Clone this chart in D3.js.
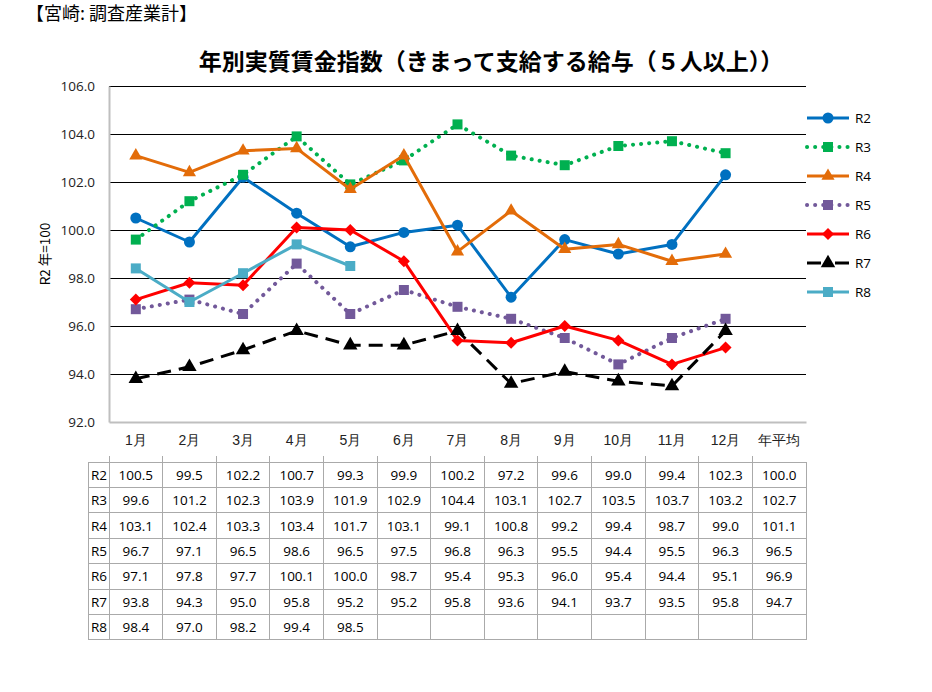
<!DOCTYPE html>
<html>
<head>
<meta charset="utf-8">
<script src="https://cdn.jsdelivr.net/npm/d3@7"></script>
<style>
  body { margin: 0; background: #fff; }
  svg { font-family: "Noto Sans CJK JP", "Noto Sans", sans-serif; }
</style>
</head>
<body>
<div id="chart"></div>
<script>
const categories = ["1月", "2月", "3月", "4月", "5月", "6月", "7月", "8月", "9月", "10月", "11月", "12月", "年平均"];
const seriesNames = ["R2", "R3", "R4", "R5", "R6", "R7", "R8"];

const r2 = [100.5, 99.5, 102.2, 100.7, 99.3, 99.9, 100.2, 97.2, 99.6, 99.0, 99.4, 102.3];
const r3 = [99.6, 101.2, 102.3, 103.9, 101.9, 102.9, 104.4, 103.1, 102.7, 103.5, 103.7, 103.2];
const r4 = [103.1, 102.4, 103.3, 103.4, 101.7, 103.1, 99.1, 100.8, 99.2, 99.4, 98.7, 99.0];
const r5 = [96.7, 97.1, 96.5, 98.6, 96.5, 97.5, 96.8, 96.3, 95.5, 94.4, 95.5, 96.3];
const r6 = [97.1, 97.8, 97.7, 100.1, 100.0, 98.7, 95.4, 95.3, 96.0, 95.4, 94.4, 95.1];
const r7 = [93.8, 94.3, 95.0, 95.8, 95.2, 95.2, 95.8, 93.6, 94.1, 93.7, 93.5, 95.8];
const r8 = [98.4, 97.0, 98.2, 99.4, 98.5];
const annualAvg = [100.0, 102.7, 101.1, 96.5, 96.9, 94.7, null];

const yTicks = [92, 94, 96, 98, 100, 102, 104, 106];

const styles = {
    R2: { color: "#0070C0", dash: null, marker: "circle" },
    R3: { color: "#00B050", dash: "0.1 8", marker: "square" },
    R4: { color: "#E36C09", dash: null, marker: "triangle" },
    R5: { color: "#72599A", dash: "0.1 8", marker: "square" },
    R6: { color: "#FF0000", dash: null, marker: "diamond" },
    R7: { color: "#000000", dash: "14 8", marker: "triangle" },
    R8: { color: "#4BACC6", dash: null, marker: "square" }
};

const allSeries = [r2, r3, r4, r5, r6, r7, r8];

const width = 932, height = 692;
const plot = { left: 109, right: 806, top: 86, bottom: 422 };

const svg = d3.select("#chart").append("svg")
    .attr("width", width)
    .attr("height", height);

// ヘッダー
svg.append("text")
    .attr("x", 26).attr("y", 20)
    .style("font-size", "18px")
    .text("【宮崎: 調査産業計】");

svg.append("text")
    .attr("x", 491).attr("y", 70)
    .attr("text-anchor", "middle")
    .style("font-size", "23px")
    .style("font-weight", "bold")
    .text("年別実質賃金指数（きまって支給する給与（５人以上））");

const x = d3.scaleBand()
    .domain(categories)
    .range([plot.left, plot.right]);

const y = d3.scaleLinear()
    .domain([92, 106])
    .range([plot.bottom, plot.top]);

// グリッド
svg.append("g")
    .selectAll("line")
    .data(yTicks.filter(d => d > 92))
    .enter().append("line")
    .attr("x1", plot.left).attr("x2", plot.right)
    .attr("y1", d => Math.round(y(d)) + 0.5).attr("y2", d => Math.round(y(d)) + 0.5)
    .attr("stroke", "#000")
    .attr("stroke-width", 1)
    .attr("shape-rendering", "crispEdges");

// 軸
const yAxis = svg.append("g")
    .attr("transform", `translate(${plot.left},0)`)
    .call(d3.axisLeft(y).tickValues(yTicks).tickFormat(d3.format(".1f")).tickSize(0).tickPadding(14));
yAxis.select(".domain").attr("stroke", "#bfbfbf").attr("stroke-width", 2);
yAxis.selectAll("text").style("font-size", "13.5px").style("font-family", "'Open Sans', sans-serif").attr("fill", "#222");

const xAxis = svg.append("g")
    .attr("transform", `translate(0,${plot.bottom})`)
    .call(d3.axisBottom(x).tickSize(0).tickPadding(13));
xAxis.select(".domain").attr("stroke", "#bfbfbf").attr("stroke-width", 2);
xAxis.selectAll("text").style("font-size", "14px").attr("fill", "#222");

svg.append("text")
    .attr("transform", `translate(50,${(plot.top + plot.bottom) / 2}) rotate(-90)`)
    .attr("text-anchor", "middle")
    .style("font-size", "13.5px")
    .text("R2 年=100");

// 折れ線
const cx = i => x(categories[i]) + x.bandwidth() / 2;
const line = d3.line().x((d, i) => cx(i)).y(d => y(d));

function drawMarker(g, type, color, size) {
    if (type === "circle") {
        g.append("circle").attr("r", size * 0.55).attr("fill", color);
    } else if (type === "square") {
        g.append("rect").attr("x", -size / 2).attr("y", -size / 2)
            .attr("width", size).attr("height", size).attr("fill", color);
    } else if (type === "triangle") {
        g.append("path").attr("d", d3.symbol(d3.symbolTriangle, size * size * 0.75)()).attr("fill", color);
    } else if (type === "diamond") {
        g.append("path").attr("d", `M0,${-size * 0.6}L${size * 0.6},0L0,${size * 0.6}L${-size * 0.6},0Z`).attr("fill", color);
    }
}

seriesNames.forEach((name, k) => {
    const st = styles[name];
    const data = allSeries[k];
    const dotted = st.dash && name !== "R7";
    const p = svg.append("path")
        .datum(data)
        .attr("fill", "none")
        .attr("stroke", st.color)
        .attr("stroke-width", dotted ? 4 : 3)
        .attr("stroke-linecap", dotted ? "round" : "butt")
        .attr("stroke-linejoin", "round")
        .attr("d", line);
    if (st.dash) p.attr("stroke-dasharray", st.dash);

    data.forEach((v, i) => {
        const g = svg.append("g").attr("transform", `translate(${cx(i)},${y(v)})`);
        drawMarker(g, st.marker, st.color, name === "R7" ? 11 : 10);
    });
});

// 凡例
const legendY = d3.scalePoint().domain(seriesNames).range([118, 292]);
seriesNames.forEach(name => {
    const st = styles[name];
    const ly = legendY(name);
    const dotted = st.dash && name !== "R7";
    const l = svg.append("line")
        .attr("x1", 807).attr("x2", 849)
        .attr("y1", ly).attr("y2", ly)
        .attr("stroke", st.color)
        .attr("stroke-width", dotted ? 4 : 3)
        .attr("stroke-linecap", dotted ? "round" : "butt");
    if (st.dash) l.attr("stroke-dasharray", name === "R7" ? "14 14" : "0.1 8");
    const g = svg.append("g").attr("transform", `translate(828,${ly})`);
    drawMarker(g, st.marker, st.color, name === "R7" ? 11 : 10);
    svg.append("text")
        .attr("x", 855).attr("y", ly + 5)
        .style("font-size", "13.5px")
        .style("font-family", "'Open Sans', sans-serif")
        .text(name);
});

// データテーブル
const table = { left: 88, top: 462, rowH: 25.4 };
const tbl = svg.append("g").attr("shape-rendering", "crispEdges");
const nRows = seriesNames.length;
const tableBottom = table.top + nRows * table.rowH;

// 横線
d3.range(nRows + 1).forEach(r => {
    tbl.append("line")
        .attr("x1", table.left).attr("x2", plot.right)
        .attr("y1", table.top + r * table.rowH).attr("y2", table.top + r * table.rowH)
        .attr("stroke", "#aaa").attr("stroke-width", 1);
});
// 縦線
const colEdges = [table.left, plot.left].concat(categories.map(c => x(c) + x.bandwidth()));
colEdges.forEach(cxv => {
    tbl.append("line")
        .attr("x1", cxv).attr("x2", cxv)
        .attr("y1", table.top).attr("y2", tableBottom)
        .attr("stroke", "#aaa").attr("stroke-width", 1);
});
// 上端の目盛り
categories.forEach(c => {
    tbl.append("line")
        .attr("x1", x(c)).attr("x2", x(c))
        .attr("y1", table.top - 6).attr("y2", table.top)
        .attr("stroke", "#aaa");
});

seriesNames.forEach((name, r) => {
    const ty = table.top + r * table.rowH + table.rowH / 2 + 5;
    tbl.append("text")
        .attr("x", table.left + 3).attr("y", ty)
        .style("font-size", "13.5px")
        .style("font-family", "'Open Sans', sans-serif")
        .text(name);
    const vals = allSeries[r].slice();
    while (vals.length < 12) vals.push(null);
    vals.push(annualAvg[r]);
    vals.forEach((v, i) => {
        if (v === null) return;
        tbl.append("text")
            .attr("x", cx(i)).attr("y", ty)
            .attr("text-anchor", "middle")
            .style("font-size", "13.5px")
            .style("font-family", "'Open Sans', sans-serif")
            .text(v.toFixed(1));
    });
});
</script>
</body>
</html>
